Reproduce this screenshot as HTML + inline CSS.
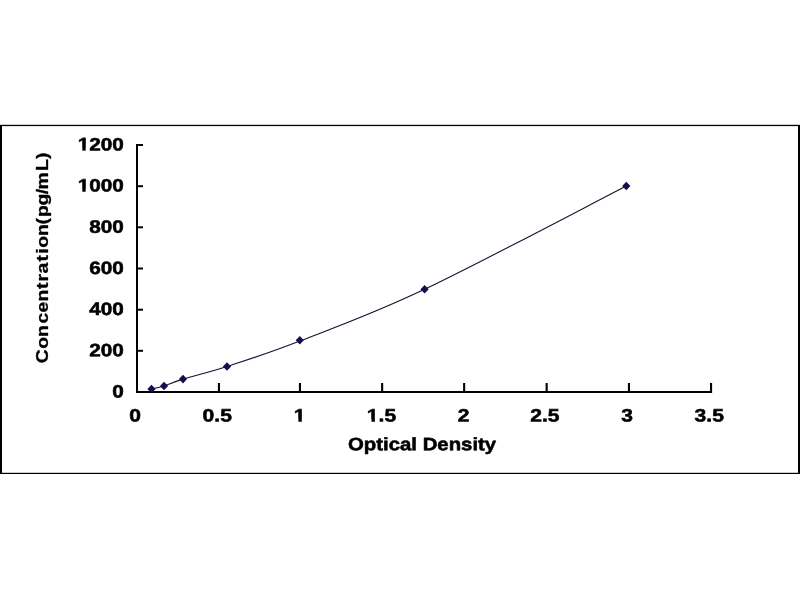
<!DOCTYPE html>
<html>
<head>
<meta charset="utf-8">
<title>Standard Curve</title>
<style>
html,body{margin:0;padding:0;background:#fff;}
body{width:800px;height:600px;overflow:hidden;position:relative;}
svg{position:absolute;left:0;top:0;display:block;}
text{font-family:"Liberation Sans",Arial,Helvetica,sans-serif;font-weight:bold;fill:#000;stroke:#000;stroke-width:0.55px;stroke-linejoin:round;}
</style>
</head>
<body>
<svg width="800" height="600" viewBox="0 0 800 600">
  <rect x="0" y="0" width="800" height="600" fill="#ffffff"/>
  <!-- outer frame -->
  <rect x="0" y="125" width="2" height="349" fill="#000"/>
  <rect x="798" y="125" width="2" height="349" fill="#000"/>
  <rect x="0" y="124.8" width="800" height="1.3" fill="#000"/>
  <rect x="0" y="472.8" width="800" height="1.2" fill="#000"/>

  <!-- axes -->
  <g fill="#000" id="axes">
    <rect x="136" y="144" width="2" height="249"/>
    <rect x="136" y="391" width="576" height="2"/>
    <rect x="136" y="144.0" width="7" height="2"/>
    <rect x="136" y="185.2" width="7" height="2"/>
    <rect x="136" y="226.3" width="7" height="2"/>
    <rect x="136" y="267.5" width="7" height="2"/>
    <rect x="136" y="308.7" width="7" height="2"/>
    <rect x="136" y="349.8" width="7" height="2"/>
    <rect x="217.9" y="383" width="2.1" height="10"/>
    <rect x="298.9" y="383" width="2.1" height="10"/>
    <rect x="381.1" y="383" width="2.1" height="10"/>
    <rect x="463.1" y="383" width="2.1" height="10"/>
    <rect x="545.6" y="383" width="2.1" height="10"/>
    <rect x="627.9" y="383" width="2.1" height="10"/>
    <rect x="710.0" y="383" width="2.1" height="10"/>
  </g>
  <!-- curve -->
  <path id="curve" d="M151.50,389.00 C153.58,388.50 158.75,387.65 164.00,386.00 C169.25,384.35 172.50,382.35 183.00,379.10 C193.50,375.85 207.53,372.85 227.00,366.50 C246.47,360.15 266.87,353.87 299.80,341.00 C332.73,328.13 370.18,315.13 424.60,289.30 C479.02,263.47 592.68,203.22 626.30,186.00" fill="none" stroke="#121230" stroke-width="1.1"/>
  <g fill="#10104c" id="markers">
    <path d="M151.5,384.7 l4.1,4.3 l-4.1,4.3 l-4.1,-4.3z"/>
    <path d="M164.0,381.7 l4.1,4.3 l-4.1,4.3 l-4.1,-4.3z"/>
    <path d="M183.0,374.8 l4.1,4.3 l-4.1,4.3 l-4.1,-4.3z"/>
    <path d="M227.0,362.2 l4.1,4.3 l-4.1,4.3 l-4.1,-4.3z"/>
    <path d="M299.8,336.0 l4.1,4.3 l-4.1,4.3 l-4.1,-4.3z"/>
    <path d="M424.6,285.0 l4.1,4.3 l-4.1,4.3 l-4.1,-4.3z"/>
    <path d="M626.3,181.7 l4.1,4.3 l-4.1,4.3 l-4.1,-4.3z"/>
  </g>
  <!-- y labels -->
  <g font-size="18" text-anchor="end" id="ylabels">
    <text transform="translate(123.9,150.40) skewY(0.04)" textLength="46.20" lengthAdjust="spacingAndGlyphs">1200</text>
    <text transform="translate(123.9,191.57) skewY(0.04)" textLength="46.20" lengthAdjust="spacingAndGlyphs">1000</text>
    <text transform="translate(123.9,232.73) skewY(0.04)" textLength="34.65" lengthAdjust="spacingAndGlyphs">800</text>
    <text transform="translate(123.9,273.90) skewY(0.04)" textLength="34.65" lengthAdjust="spacingAndGlyphs">600</text>
    <text transform="translate(123.9,315.07) skewY(0.04)" textLength="34.65" lengthAdjust="spacingAndGlyphs">400</text>
    <text transform="translate(123.9,356.23) skewY(0.04)" textLength="34.65" lengthAdjust="spacingAndGlyphs">200</text>
    <text transform="translate(123.9,397.40) skewY(0.04)" textLength="11.55" lengthAdjust="spacingAndGlyphs">0</text>
  </g>
  <!-- x labels -->
  <g font-size="18" text-anchor="middle" id="xlabels">
    <text transform="translate(135.2,421.5) skewY(0.04)" textLength="11.70" lengthAdjust="spacingAndGlyphs">0</text>
    <text transform="translate(217.2,421.5) skewY(0.04)" textLength="29.30" lengthAdjust="spacingAndGlyphs">0.5</text>
    <text transform="translate(299.6,421.5) skewY(0.04)" textLength="11.70" lengthAdjust="spacingAndGlyphs">1</text>
    <text transform="translate(381.5,421.5) skewY(0.04)" textLength="29.30" lengthAdjust="spacingAndGlyphs">1.5</text>
    <text transform="translate(463.7,421.5) skewY(0.04)" textLength="11.70" lengthAdjust="spacingAndGlyphs">2</text>
    <text transform="translate(544.8,421.5) skewY(0.04)" textLength="29.30" lengthAdjust="spacingAndGlyphs">2.5</text>
    <text transform="translate(627.1,421.5) skewY(0.04)" textLength="11.70" lengthAdjust="spacingAndGlyphs">3</text>
    <text transform="translate(709.2,421.5) skewY(0.04)" textLength="29.30" lengthAdjust="spacingAndGlyphs">3.5</text>
  </g>
  <!-- axis titles -->
  <text id="xtitle" transform="translate(348,450.2) skewY(0.04)" font-size="18" textLength="148.2" lengthAdjust="spacingAndGlyphs">Optical Density</text>
  <text id="ytitle" style="stroke-width:0.3px" transform="translate(48,0) rotate(-90) scale(1.120,1)" font-size="17.3" x="-324.31 -311.49 -300.85 -288.82 -279.00 -269.25 -258.15 -251.44 -244.18 -233.55 -226.55 -221.31 -210.63 -200.36 -193.67 -183.50 -173.39 -169.24 -152.61 -141.88" y="0">Concentration(pg/mL)</text>
  <g fill="#ffffff" id="footmask">
    <rect x="77.53" y="148.00" width="4.74" height="3.00"/>
    <rect x="85.67" y="148.00" width="3.58" height="3.00"/>
    <rect x="77.53" y="189.00" width="4.74" height="3.00"/>
    <rect x="85.67" y="189.00" width="3.58" height="3.00"/>
    <rect x="293.60" y="419.00" width="4.79" height="3.00"/>
    <rect x="301.82" y="419.00" width="4.22" height="3.00"/>
    <rect x="366.70" y="419.00" width="4.79" height="3.00"/>
    <rect x="374.94" y="419.00" width="4.22" height="3.00"/>
  </g>
</svg>
</body>
</html>
